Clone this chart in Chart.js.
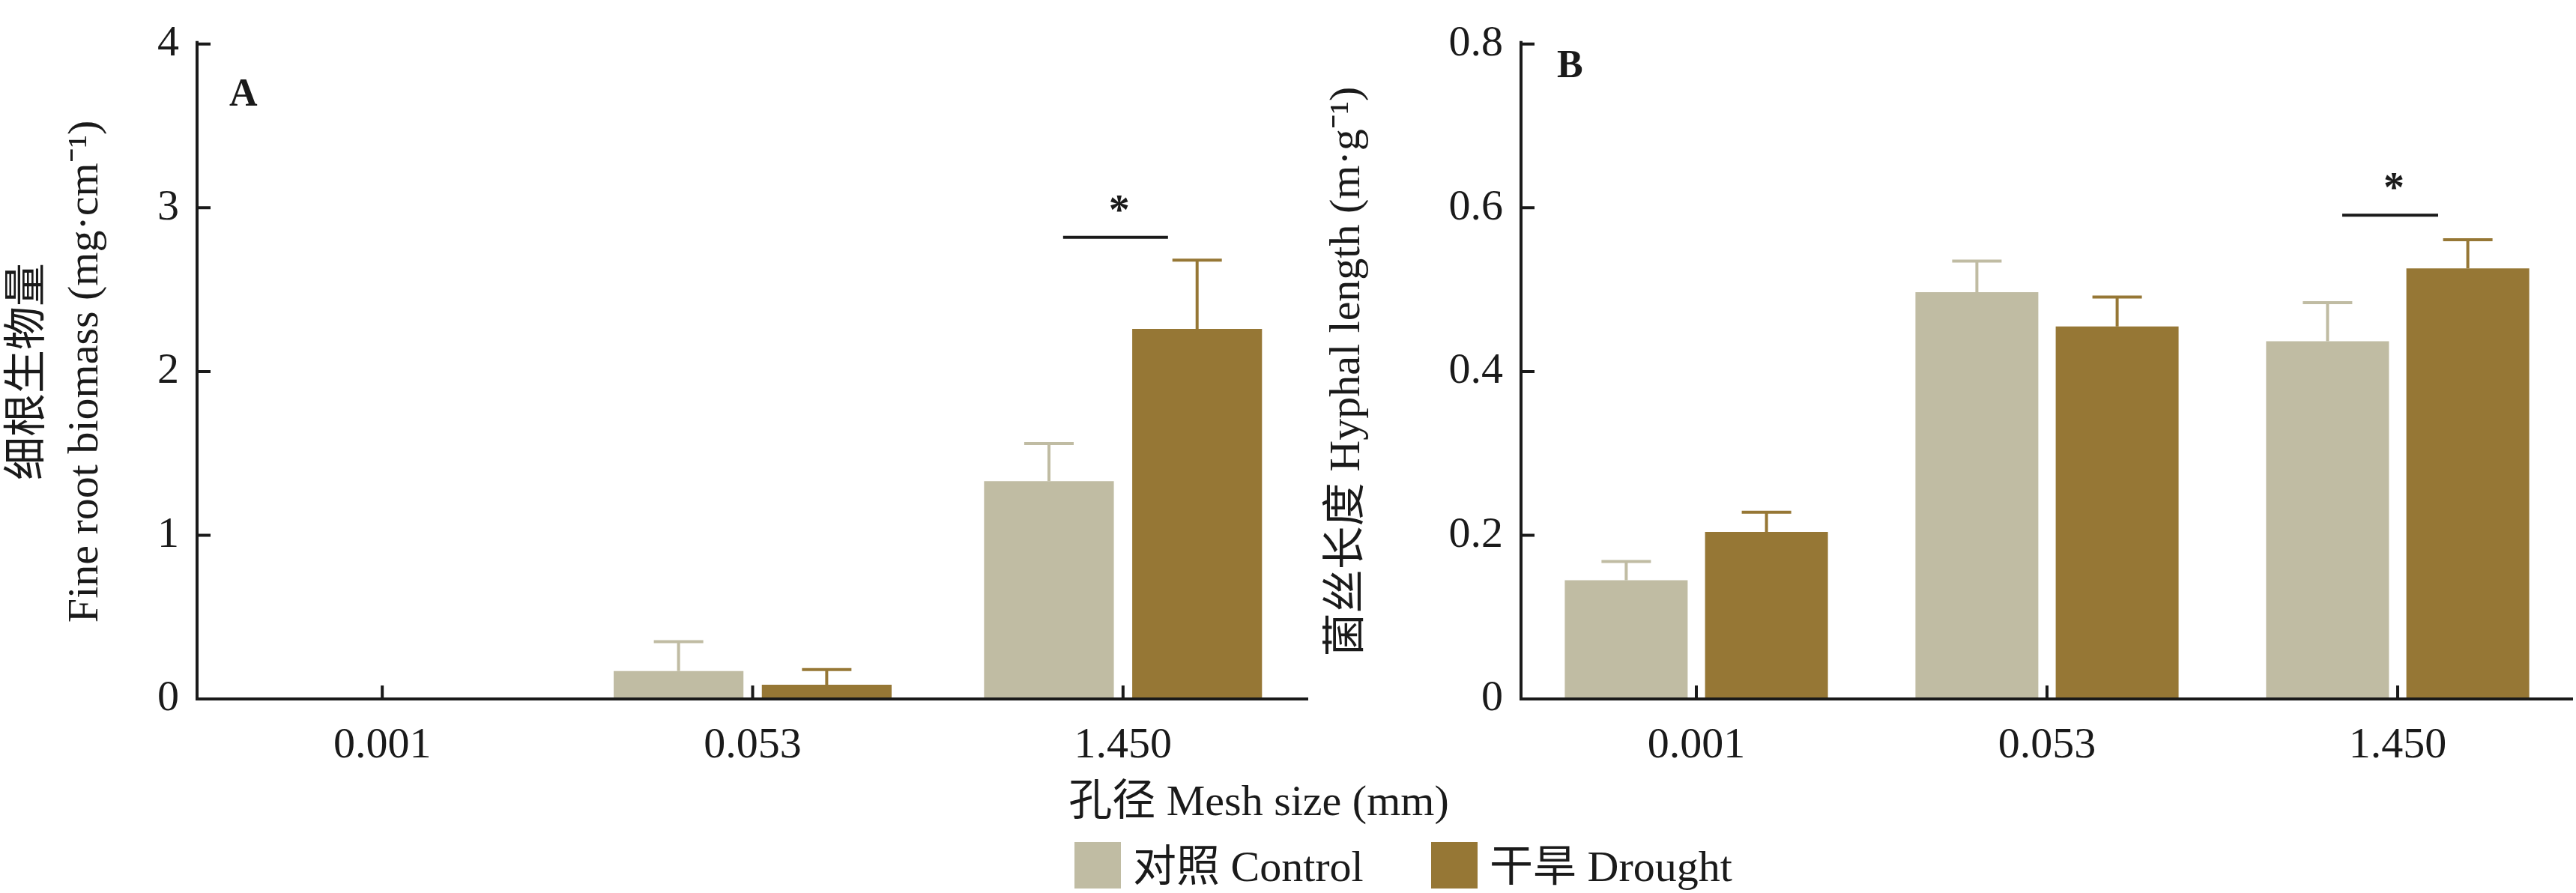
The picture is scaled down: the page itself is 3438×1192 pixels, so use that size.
<!DOCTYPE html>
<html><head><meta charset="utf-8">
<script src="https://cdn.jsdelivr.net/npm/chart.js@4"></script>
<style>
  body { margin:0; background:#fff; width:3438px; height:1192px; position:relative; overflow:hidden;
         font-family:"Liberation Serif","Noto Sans CJK SC",serif; color:#1a1a1a; }
  canvas { position:absolute; top:0; }
  .lbl { position:absolute; white-space:nowrap; font-size:58px; line-height:1; }
  .box { position:absolute; width:62px; height:62px; }
</style></head>
<body>
<canvas id="chartA" width="1750" height="1040" style="left:0"></canvas>
<canvas id="chartB" width="1678" height="1040" style="left:1760px"></canvas>
<div class="lbl" style="left:306px;top:98px;font-weight:bold;font-size:52px">A</div>
<div class="lbl" style="left:2078px;top:60px;font-weight:bold;font-size:52px">B</div>
<div class="lbl" style="left:1680px;top:1040px;transform:translateX(-50%)">孔径 Mesh size (mm)</div>
<div class="box" style="left:1434px;top:1124px;background:#c0bca3"></div>
<div class="lbl" style="left:1512px;top:1128px">对照 Control</div>
<div class="box" style="left:1910px;top:1124px;background:#967735"></div>
<div class="lbl" style="left:1988px;top:1128px">干旱 Drought</div>
<script>
// --- DATA ---
const meshSizes = ['0.001', '0.053', '1.450'];
const rootControl = [0, 0.17, 1.33];
const rootControlErr = [0, 0.18, 0.23];
const rootDrought = [0, 0.087, 2.26];
const rootDroughtErr = [0, 0.093, 0.42];
const hyphaControl = [0.145, 0.497, 0.437];
const hyphaControlErr = [0.023, 0.038, 0.047];
const hyphaDrought = [0.204, 0.455, 0.526];
const hyphaDroughtErr = [0.024, 0.036, 0.035];
const rootTicks = [0, 1, 2, 3, 4];
const hyphaTicks = [0, 0.2, 0.4, 0.6, 0.8];

const CONTROL = '#c0bca3';
const DROUGHT = '#967735';
const INK = '#1a1a1a';
const FONT = '"Liberation Serif","Noto Sans CJK SC",serif';

// error bars, inward ticks and significance marks
const extrasPlugin = {
    id: 'extras',
    afterDatasetsDraw(chart, args, opts) {
        const ctx = chart.ctx, x = chart.scales.x, y = chart.scales.y;
        ctx.save();
        chart.data.datasets.forEach((ds, di) => {
            const meta = chart.getDatasetMeta(di);
            meta.data.forEach((bar, i) => {
                const err = opts.errors[di][i];
                if (!err) return;
                const top = y.getPixelForValue(ds.data[i] + err);
                ctx.strokeStyle = ds.backgroundColor; ctx.lineWidth = 4;
                ctx.beginPath();
                ctx.moveTo(bar.x, bar.y); ctx.lineTo(bar.x, top);
                ctx.moveTo(bar.x - 33, top); ctx.lineTo(bar.x + 33, top);
                ctx.stroke();
            });
        });
        // axes
        ctx.strokeStyle = INK; ctx.lineWidth = 4;
        ctx.beginPath();
        ctx.moveTo(x.left, y.top - 4); ctx.lineTo(x.left, y.bottom); ctx.lineTo(x.right, y.bottom);
        y.ticks.forEach(t => { const py = y.getPixelForValue(t.value); ctx.moveTo(x.left, py); ctx.lineTo(x.left + 18, py); });
        meshSizes.forEach((m, i) => { const px = x.getPixelForValue(i); ctx.moveTo(px, y.bottom); ctx.lineTo(px, y.bottom - 18); });
        ctx.stroke();
        // significance
        const s = opts.sig;
        const sy = y.getPixelForValue(s.value);
        const cx = x.getPixelForValue(s.index);
        ctx.beginPath(); ctx.moveTo(cx - 10 - s.half, sy); ctx.lineTo(cx - 10 + s.half, sy); ctx.stroke();
        ctx.fillStyle = INK; ctx.font = 'bold 56px ' + FONT; ctx.textAlign = 'center';
        ctx.fillText('*', cx - 5, sy - 18);
        ctx.restore();
    }
};

function makeChart(id, control, drought, errs, ticks, max, yWidth, title, sig) {
    return new Chart(document.getElementById(id), {
        type: 'bar',
        data: {
            labels: meshSizes,
            datasets: [
                { label: '对照 Control', data: control, backgroundColor: CONTROL },
                { label: '干旱 Drought', data: drought, backgroundColor: DROUGHT }
            ]
        },
        options: {
            responsive: false, devicePixelRatio: 1, animation: false,
            layout: { padding: { top: -14, right: 4 } },
            categoryPercentage: 0.8, barPercentage: 0.876,
            plugins: { legend: { display: false }, tooltip: { enabled: false },
                       extras: { errors: errs, sig: sig } },
            scales: {
                x: {
                    grid: { display: false }, border: { display: false },
                    ticks: { color: INK, font: { family: FONT, size: 58 }, padding: 20 },
                    afterFit: s => { s.height = 107; }
                },
                y: {
                    min: 0, max: max,
                    afterBuildTicks: s => { s.ticks = ticks.map(v => ({ value: v })); },
                    grid: { display: false, drawTicks: false }, border: { display: false },
                    ticks: { color: INK, font: { family: FONT, size: 58 }, padding: 24 },
                    title: { display: true, text: title, color: INK, padding: { top: 0, bottom: 0 },
                             font: { family: FONT, size: 58, lineHeight: 1.32 } },
                    afterFit: s => { s.width = yWidth; }
                }
            }
        },
        plugins: [extrasPlugin]
    });
}

makeChart('chartA', rootControl, rootDrought, [rootControlErr, rootDroughtErr], rootTicks, 4, 263,
    ['细根生物量', 'Fine root biomass (mg·cm⁻¹)'], { index: 2, value: 2.82, half: 70 });
makeChart('chartB', hyphaControl, hyphaDrought, [hyphaControlErr, hyphaDroughtErr], hyphaTicks, 0.8, 270,
    '菌丝长度 Hyphal length (m·g⁻¹)', { index: 2, value: 0.591, half: 64 });
</script>
</body></html>
